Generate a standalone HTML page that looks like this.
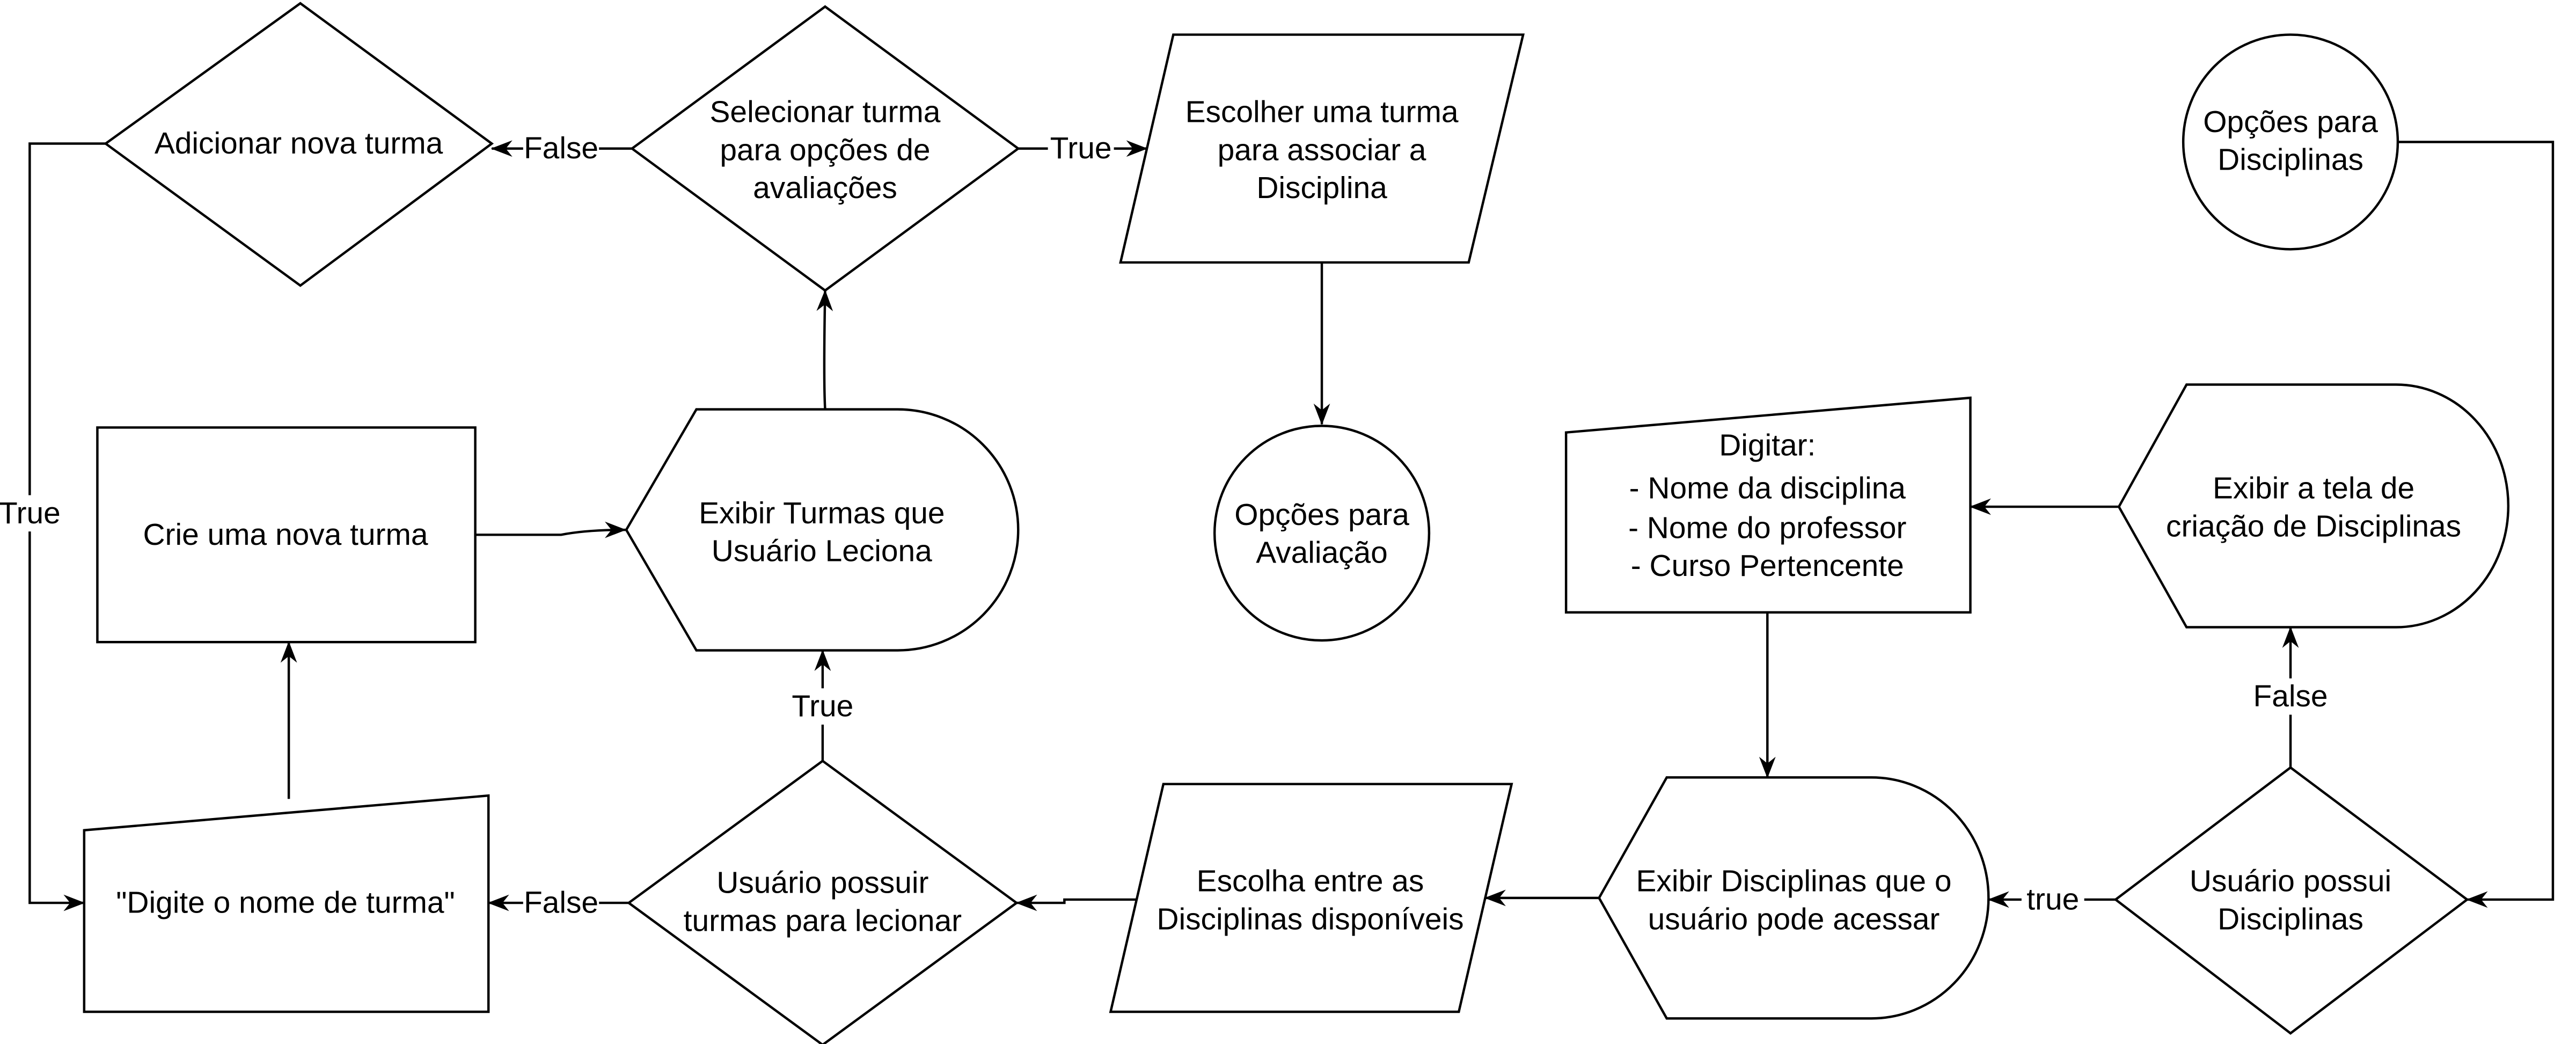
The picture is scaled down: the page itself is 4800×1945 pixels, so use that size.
<!DOCTYPE html>
<html><head><meta charset="utf-8"><style>
html,body{margin:0;padding:0;background:#fff;}
svg{display:block;}
text{font-family:"Liberation Sans",Arial,sans-serif;font-size:18.5px;fill:#000;text-anchor:middle;}
.s{fill:#fff;stroke:#000;stroke-width:1.45;}
.l{fill:none;stroke:#000;stroke-width:1.45;}
.lb{fill:#fff;}
</style></head><body>
<svg width="4800" height="1945" viewBox="0 0 1561 632.5" preserveAspectRatio="none" xmlns="http://www.w3.org/2000/svg">
<defs><marker id="a" viewBox="0 0 13 10" refX="12.5" refY="5" markerWidth="13" markerHeight="10" markerUnits="userSpaceOnUse" orient="auto"><path d="M0,0 L13,5 L0,10 L4,5 Z" fill="#000"/></marker></defs>

<!-- connectors -->
<path class="l" d="M64,87 H18 V547 H51" marker-end="url(#a)"/>
<rect class="lb" x="0" y="300" width="37" height="22"/><text x="18" y="317">True</text>
<path class="l" d="M383,90 H298" marker-end="url(#a)"/>
<rect class="lb" x="317" y="79" width="46" height="22"/><text x="340" y="96">False</text>
<path class="l" d="M617,90 H695" marker-end="url(#a)"/>
<rect class="lb" x="635" y="79" width="40" height="22"/><text x="655" y="96">True</text>
<path class="l" d="M801,159 V257" marker-end="url(#a)"/>
<path class="l" d="M1453,86 H1547 V545 H1495" marker-end="url(#a)"/>
<path class="l" d="M288,324 H340 Q355,321 379,321" marker-end="url(#a)"/>
<path class="l" d="M500,248 Q499,230 500,176" marker-end="url(#a)"/>
<path class="l" d="M175,484 V389" marker-end="url(#a)"/>
<path class="l" d="M498.5,461 V394" marker-end="url(#a)"/>
<rect class="lb" x="478" y="417" width="42" height="22"/><text x="498.5" y="434">True</text>
<path class="l" d="M381,547 H296" marker-end="url(#a)"/>
<rect class="lb" x="317" y="536" width="46" height="22"/><text x="340" y="553">False</text>
<path class="l" d="M689,545 H645 V547 H616" marker-end="url(#a)"/>
<path class="l" d="M969,544 H900" marker-end="url(#a)"/>
<path class="l" d="M1282,545 H1205" marker-end="url(#a)"/>
<rect class="lb" x="1225" y="534" width="38" height="22"/><text x="1244" y="551">true</text>
<path class="l" d="M1388,465 V380" marker-end="url(#a)"/>
<rect class="lb" x="1363" y="411" width="50" height="22"/><text x="1388" y="428">False</text>
<path class="l" d="M1284,307 H1194" marker-end="url(#a)"/>
<path class="l" d="M1071,371 V471" marker-end="url(#a)"/>

<!-- shapes -->
<polygon class="s" points="182,2 298,87 182,173 64,87"/>
<text x="181" y="93">Adicionar nova turma</text>

<polygon class="s" points="500,4 617,90 500,176 383,90"/>
<text x="500" y="74">Selecionar turma</text>
<text x="500" y="97">para opções de</text>
<text x="500" y="120">avaliações</text>

<polygon class="s" points="711,21 923,21 890,159 679,159"/>
<text x="801" y="74">Escolher uma turma</text>
<text x="801" y="97">para associar a</text>
<text x="801" y="120">Disciplina</text>

<circle class="s" cx="1388" cy="86" r="65"/>
<text x="1388" y="80">Opções para</text>
<text x="1388" y="103">Disciplinas</text>

<rect class="s" x="59" y="259" width="229" height="130"/>
<text x="173" y="330">Crie uma nova turma</text>

<path class="s" d="M379.5,321 L422,248 L544,248 A73,73 0 0 1 544,394 L422,394 Z"/>
<text x="498" y="317">Exibir Turmas que</text>
<text x="498" y="340">Usuário Leciona</text>

<circle class="s" cx="801" cy="323" r="65"/>
<text x="801" y="318">Opções para</text>
<text x="801" y="341">Avaliação</text>

<polygon class="s" points="949,262 1194,241 1194,371 949,371"/>
<text x="1071" y="276">Digitar:</text>
<text x="1071" y="302">- Nome da disciplina</text>
<text x="1071" y="326">- Nome do professor</text>
<text x="1071" y="349">- Curso Pertencente</text>

<path class="s" d="M1284,307 L1325,233 L1452,233 A68,73.5 0 0 1 1452,380 L1325,380 Z"/>
<text x="1402" y="302">Exibir a tela de</text>
<text x="1402" y="325">criação de Disciplinas</text>

<polygon class="s" points="51,503 296,482 296,613 51,613"/>
<text x="173" y="553">"Digite o nome de turma"</text>

<polygon class="s" points="498.5,461 616,547 498.5,633 381,547"/>
<text x="498.5" y="541">Usuário possuir</text>
<text x="498.5" y="564">turmas para lecionar</text>

<polygon class="s" points="705,475 916,475 884,613 673,613"/>
<text x="794" y="540">Escolha entre as</text>
<text x="794" y="563">Disciplinas disponíveis</text>

<path class="s" d="M969,544 L1010,471 L1134,471 A71,73 0 0 1 1134,617 L1010,617 Z"/>
<text x="1087" y="540">Exibir Disciplinas que o</text>
<text x="1087" y="563">usuário pode acessar</text>

<polygon class="s" points="1388,465 1495,545 1388,626 1282,545"/>
<text x="1388" y="540">Usuário possui</text>
<text x="1388" y="563">Disciplinas</text>
</svg>
</body></html>
